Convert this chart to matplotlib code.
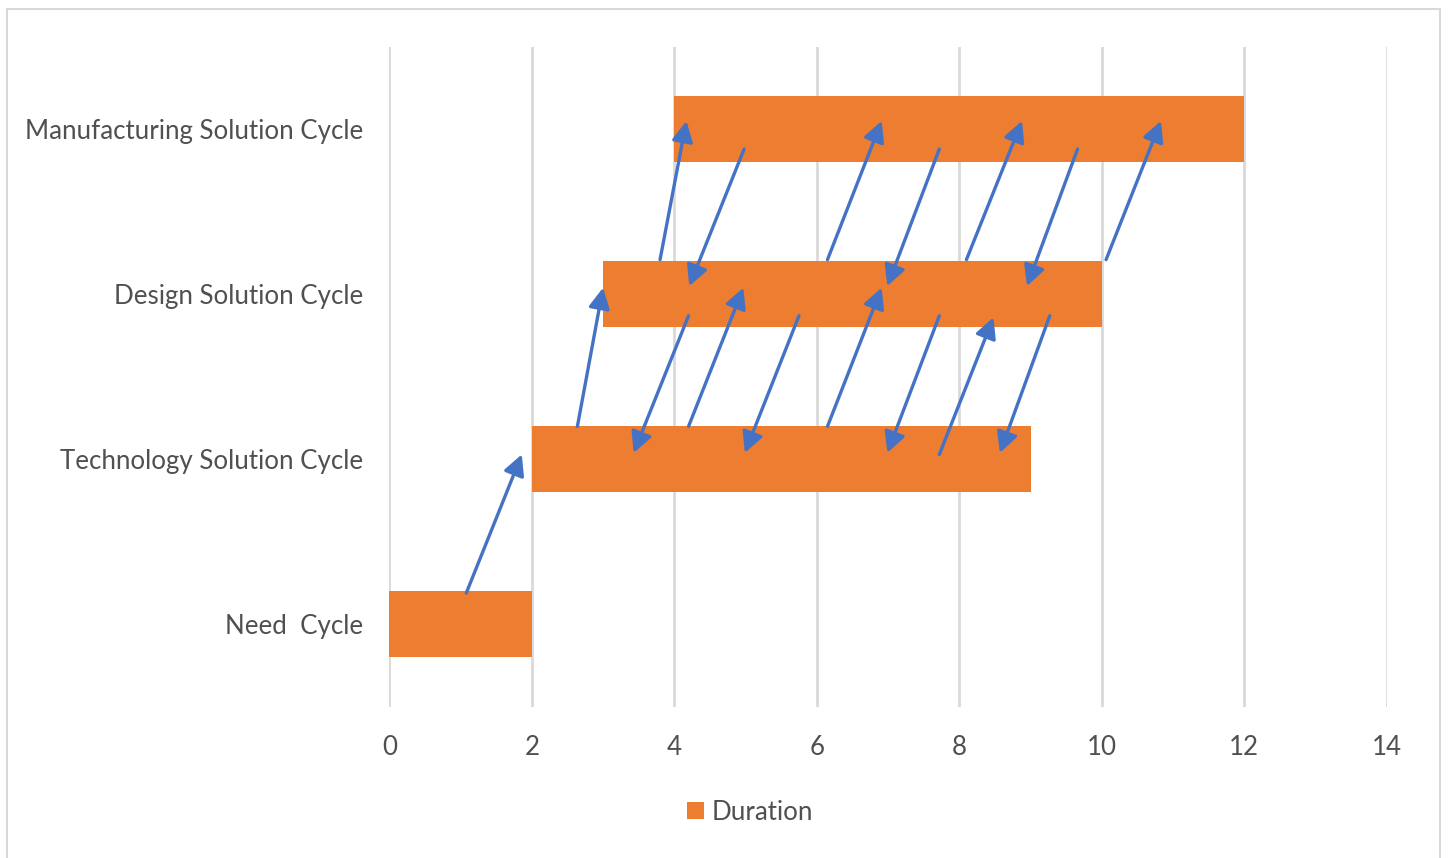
import matplotlib.pyplot as plt
from matplotlib.patches import Rectangle

plt.rcParams['font.family'] = ['Lato', 'DejaVu Sans']

# phases of the cycle, bottom to top
cycles = ['Need  Cycle', 'Technology Solution Cycle',
          'Design Solution Cycle', 'Manufacturing Solution Cycle']
start = [0, 2, 3, 4]
duration = [2, 7, 7, 8]

# feedback links between cycles: (x_from, y_from, x_to, y_to)
links = [
    (1.08, 0.19, 1.86, 1.03),
    (2.64, 1.20, 3.00, 2.04),
    (4.20, 1.87, 3.43, 1.04),
    (4.20, 1.20, 4.97, 2.04),
    (5.75, 1.87, 4.99, 1.04),
    (6.15, 1.20, 6.91, 2.04),
    (7.72, 1.87, 6.99, 1.04),
    (7.72, 1.03, 8.48, 1.86),
    (9.27, 1.87, 8.57, 1.04),
    (3.80, 2.21, 4.17, 3.05),
    (4.98, 2.88, 4.21, 2.05),
    (6.15, 2.21, 6.91, 3.05),
    (7.72, 2.88, 6.99, 2.05),
    (8.10, 2.21, 8.88, 3.05),
    (9.66, 2.88, 8.95, 2.05),
    (10.06, 2.21, 10.83, 3.05),
]

orange = '#ED7D31'
blue = '#4472C4'
grey_txt = '#505050'

fig = plt.figure(figsize=(14.48, 8.58), dpi=100)
fig.patches.append(Rectangle((7 / 1448, -0.01), 1433 / 1448, 1 - 9 / 858 + 0.01,
                             transform=fig.transFigure, fill=False,
                             edgecolor='#D9D9D9', linewidth=1.5))

ax = fig.add_axes([389.3 / 1448, 1 - 707 / 858, 997.5 / 1448, 660.3 / 858])
ax.barh(range(len(cycles)), duration, left=start, height=0.4,
        color=orange, label='Duration', zorder=2)

for x0, y0, x1, y1 in links:
    ax.annotate('', xy=(x1, y1), xytext=(x0, y0),
                arrowprops=dict(arrowstyle='-|>,head_length=0.62,head_width=0.32',
                                mutation_scale=20, color=blue, lw=2.4,
                                shrinkA=0, shrinkB=0),
                zorder=3)

ax.set_xlim(0, 14)
ax.set_ylim(-0.5, 3.5)
ax.set_xticks(range(0, 15, 2))
ax.set_yticks(range(len(cycles)))
ax.set_yticklabels(cycles)
ax.tick_params(axis='both', length=0, labelsize=18.6, colors=grey_txt)
ax.tick_params(axis='x', pad=20)
ax.tick_params(axis='y', pad=19)
ax.xaxis.grid(True, color='#D9D9D9', linewidth=2, zorder=0)
ax.set_axisbelow(True)
for s in ax.spines.values():
    s.set_visible(False)

fig.legend(loc='center', bbox_to_anchor=(750 / 1448, 1 - 812 / 858),
           frameon=False, fontsize=18.6, labelcolor=grey_txt,
           handlelength=0.65, handleheight=0.65, handletextpad=0.3)

fig.savefig('out.png', dpi=100)
